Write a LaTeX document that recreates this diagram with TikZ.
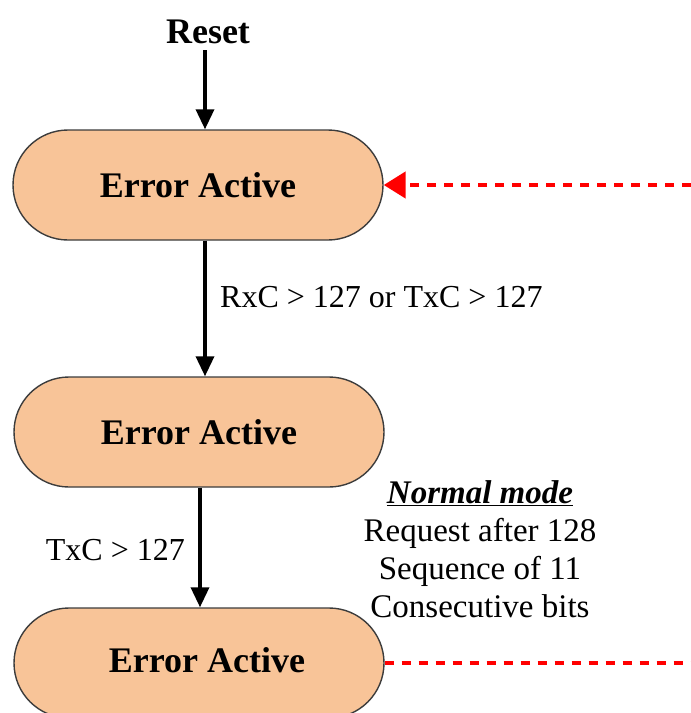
\documentclass[tikz,border=0pt]{standalone}
\usepackage{fontspec}
\setmainfont{Liberation Serif}
\usetikzlibrary{shapes.misc,arrows.meta}
\definecolor{peach}{RGB}{248,196,152}
\definecolor{edgegray}{RGB}{60,60,60}
\tikzset{
  state/.style={rounded rectangle, draw=edgegray, line width=1.4pt, fill=peach,
    minimum width=370pt, minimum height=110pt, inner sep=0pt,
    font=\fontsize{36}{40}\selectfont\bfseries},
  flow/.style={draw=black, line width=3.5pt, -{Triangle[length=20pt,width=18pt]}},
  redflow/.style={draw=red, line width=4.5pt, dash pattern=on 9pt off 8pt},
  lbl/.style={font=\fontsize{32}{38}\selectfont, inner sep=0pt},
}
\begin{document}
\begin{tikzpicture}[x=1pt,y=-1pt]
\useasboundingbox (0,0) rectangle (691,713);
\node[font=\fontsize{36}{40}\selectfont\bfseries, inner sep=0pt] (reset) at (208,32) {Reset};
\node[state] (n1) at (198,185) {Error Active};
\node[state] (n2) at (199,432) {Error Active};
\node[state] (n3) at (199,663) {\hspace*{16pt}\raisebox{6pt}{Error Active}};
\coordinate (r1) at (691,185);
\coordinate (r3) at (691,663);
\draw[flow] ([yshift=-6pt]reset.south -| 205,0) -- (n1.north -| 205,0);
\draw[flow] (n1.south -| 205,0) -- (n2.north -| 205,0);
\draw[flow] (n2.south -| 200,0) -- (n3.north -| 200,0);
\node[lbl, anchor=west] (l1) at (220,297) {RxC > 127 or TxC > 127};
\node[lbl, anchor=east] (l2) at (185,550) {TxC > 127};
\node[lbl, font=\fontsize{33}{38}\selectfont, align=center, anchor=north] (nm) at (480,480) {\underline{\textbf{\textit{Normal mode}}}\\ Request after 128\\ Sequence of 11\\ Consecutive bits};
\draw[redflow, -{Triangle[length=22pt,width=26pt]}] (r1) -- (n1.east);
\draw[redflow] (n3.east) -- (r3);
\end{tikzpicture}
\end{document}
